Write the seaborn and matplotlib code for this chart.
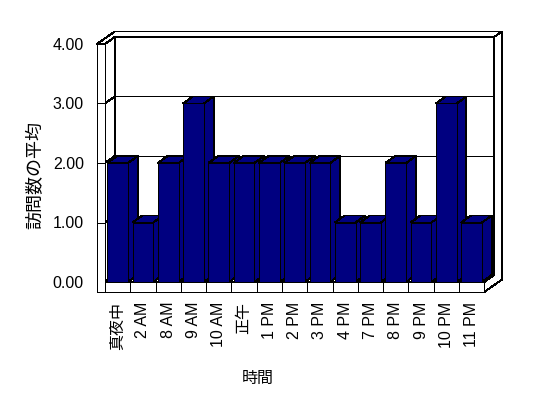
import numpy as np
import pandas as pd
import matplotlib
matplotlib.use("Agg")
import matplotlib.pyplot as plt
from matplotlib.patches import Polygon, Rectangle
import seaborn as sns

# ---- data ----
hours = ['真夜中', '2 AM', '8 AM', '9 AM', '10 AM', '正午', '1 PM', '2 PM',
         '3 PM', '4 PM', '7 PM', '8 PM', '9 PM', '10 PM', '11 PM']
avg_visits = [2, 1, 2, 3, 2, 2, 2, 2, 2, 1, 1, 2, 1, 3, 1]
y_ticks = [0, 1, 2, 3, 4]
y_tick_labels = ['0.00', '1.00', '2.00', '3.00', '4.00']
x_title = '時間'
y_title = '訪問数の平均'

sns.set_theme(style='white')
plt.rcParams['font.family'] = ['Liberation Sans', 'Noto Sans CJK JP']

W, H = 548, 398
fig = plt.figure(figsize=(W / 100, H / 100), dpi=100)
fig.patch.set_facecolor('white')

n = len(hours)
# pixel geometry of the pseudo-3D box
front_left, front_right = 105.0, 484.3
front_bottom, front_top = 282.0, 44.0
sx = (front_right - front_left) / n          # px per category
sy = (front_bottom - front_top) / 4.0        # px per value unit
DX, DY = 9.7 / sx, 7.0 / sy                  # depth offset (data units)
BX, BY = 8.0 / sx, 5.5 / sy                  # back wall thickness
TL = 8.0 / sx                                # left wall thickness
TF = 10.0 / sy                               # floor thickness
ymax_v = 4.0

xmin, xmax = -0.5 - TL, n - 0.5 + DX + BX
ymin, ymax = -TF, ymax_v + DY + BY
px_left = front_left - TL * sx
px_right = front_right + (DX + BX) * sx
px_bottom = front_bottom + TF * sy
px_top = front_top - (DY + BY) * sy
ax = fig.add_axes([px_left / W, (H - px_bottom) / H,
                   (px_right - px_left) / W, (px_bottom - px_top) / H])

df = pd.DataFrame({'hour': hours, 'avg': avg_visits})
sns.barplot(data=df, x='hour', y='avg', color='#000080', saturation=1,
            width=0.82, edgecolor='black', linewidth=0.72, ax=ax)

lw = 0.72
kw = dict(edgecolor='black', linewidth=lw, joinstyle='miter', clip_on=False, antialiased=False)
lkw = dict(color='black', lw=lw, clip_on=False, antialiased=False, solid_capstyle='projecting')
L, R = -0.5, n - 0.5

# back wall
ax.add_patch(Polygon([(L + DX, DY), (R + DX, DY), (R + DX, ymax_v + DY), (L + DX, ymax_v + DY)],
                     facecolor='white', zorder=1, **kw))
# left inner wall
ax.add_patch(Polygon([(L, 0), (L + DX, DY), (L + DX, ymax_v + DY), (L, ymax_v)],
                     facecolor='white', zorder=1, **kw))
# floor top
ax.add_patch(Polygon([(L, 0), (R, 0), (R + DX, DY), (L + DX, DY)],
                     facecolor='white', zorder=1, **kw))
# gridlines
for k in y_ticks[1:-1]:
    ax.plot([L + DX, R + DX], [k + DY, k + DY], zorder=2, **lkw)
    ax.plot([L, L + DX], [k, k + DY], zorder=2, **lkw)
# top strip of walls
ax.add_patch(Polygon([(L - TL, ymax_v), (L, ymax_v), (L + DX, ymax_v + DY), (R + DX, ymax_v + DY),
                      (R + DX + BX, ymax_v + DY + BY), (L - TL + DX + BX, ymax_v + DY + BY)],
                     facecolor='white', zorder=2, **kw))
# right side strip (back wall + floor side)
ax.add_patch(Polygon([(R, -TF), (R + DX + BX, -TF + DY + BY), (R + DX + BX, ymax_v + DY + BY),
                      (R + DX, ymax_v + DY), (R + DX, DY), (R, 0)],
                     facecolor='white', zorder=2, **kw))
# left wall front face
ax.add_patch(Rectangle((L - TL, -TF), TL, ymax_v + TF, facecolor='white', zorder=60, **kw))
for k in y_ticks[1:-1]:
    ax.plot([L - TL, L], [k, k], zorder=61, **lkw)
# floor front face with category cells
ax.add_patch(Rectangle((L, -TF), n, TF, facecolor='white', zorder=60, **kw))
for i in range(n - 1):
    ax.plot([i + 0.5, i + 0.5], [-TF, 0], zorder=61, **lkw)

# 3D faces for bars
bars = [p for p in ax.patches if isinstance(p, Rectangle)][:n]
for i, p in enumerate(bars):
    x0 = p.get_x()
    w = p.get_width()
    h = p.get_height()
    x1 = x0 + w
    base = 10 + 3 * i
    ax.add_patch(Polygon([(x1, 0), (x1 + DX, DY), (x1 + DX, h + DY), (x1, h)],
                         facecolor='#000080', zorder=base, **kw))
    ax.add_patch(Polygon([(x0, h), (x1, h), (x1 + DX, h + DY), (x0 + DX, h + DY)],
                         facecolor='#000080', zorder=base, **kw))
    p.set_zorder(base + 1)
    p.set_joinstyle('miter')
    p.set_antialiased(False)

ax.set_xlim(xmin, xmax)
ax.set_ylim(ymin, ymax)
for s in ax.spines.values():
    s.set_visible(False)
ax.set_facecolor('white')
ax.patch.set_visible(False)
ax.grid(False)
ax.set_yticks(y_ticks)
ax.set_yticklabels(y_tick_labels, fontsize=11.5)
ax.set_xticks(range(n))
ax.set_xticklabels(hours, rotation=90, fontsize=11.5, va='top', ha='center')
ax.tick_params(axis='y', length=0, pad=9.4, colors='black')
ax.tick_params(axis='x', length=0, pad=7, colors='black')
ax.set_xlabel('')
ax.set_ylabel('')

fig.text(258 / W, 1 - 378 / H, x_title, ha='center', va='center', fontsize=11.5,
         family=['Noto Sans CJK JP'], color='black')
fig.text(35 / W, 1 - 175 / H, y_title, ha='center', va='center', rotation=90,
         fontsize=13, family=['Noto Sans CJK JP'], color='black')

fig.savefig('out.png', dpi=100, facecolor='white')
